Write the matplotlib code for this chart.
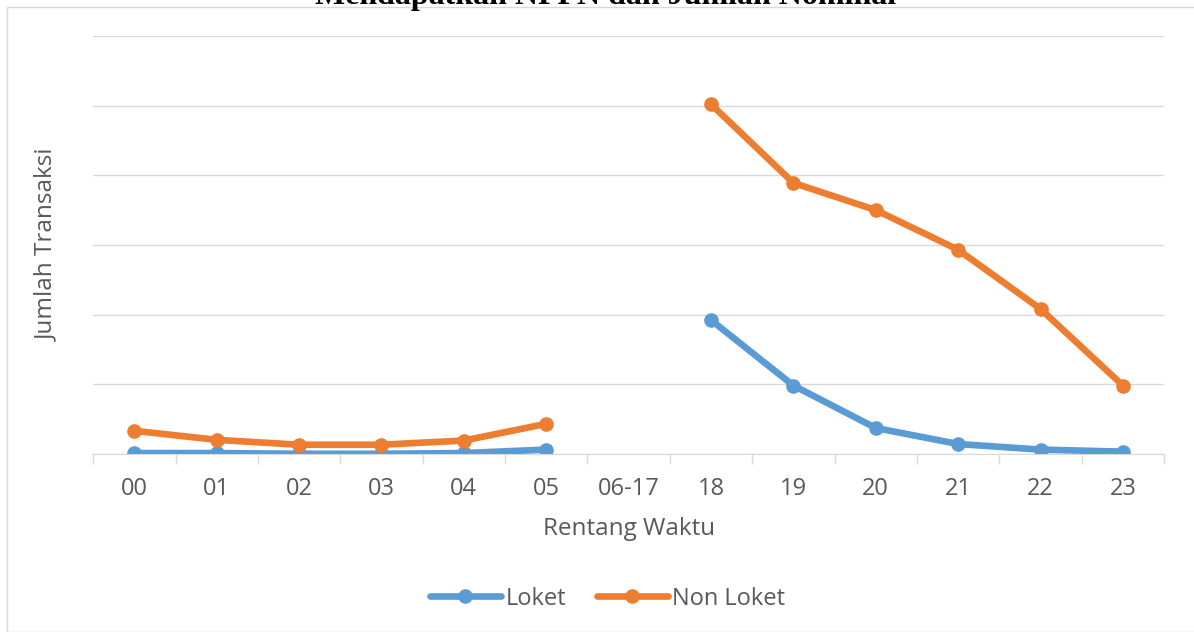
import matplotlib.pyplot as plt
import matplotlib.patches as mpatches
import numpy as np

# Data (y-axis has no labels, units are relative)
categories = ['00', '01', '02', '03', '04', '05', '06-17', '18', '19', '20', '21', '22', '23']
loket = [1, 1, 0, 0, 1, 6, np.nan, 192, 98, 37, 14, 6, 3]
non_loket = [33, 20, 13, 13, 19, 43, np.nan, 502, 389, 350, 293, 208, 98]

blue = '#5B9BD5'
orange = '#ED7D31'
grid_color = '#D9D9D9'
text_color = '#595959'

plt.rcParams['font.family'] = ['Open Sans', 'DejaVu Sans']

fig = plt.figure(figsize=(11.94, 6.32), dpi=100)
ax = fig.add_axes([0.078, 0.282, 0.897, 0.661])

x = np.arange(len(categories))
ax.plot(x, loket, color=blue, lw=4.8, marker='o', ms=9.5, label='Loket', solid_capstyle='round')
ax.plot(x, non_loket, color=orange, lw=4.8, marker='o', ms=9.5, label='Non Loket', solid_capstyle='round')

ax.set_xlim(-0.5, len(categories) - 0.5)
ax.set_ylim(0, 600)
ax.set_yticks(np.arange(0, 601, 100))
ax.yaxis.grid(True, color=grid_color, lw=1)
ax.set_axisbelow(True)
ax.tick_params(axis='y', left=False, labelleft=False)

# category labels in the middle, tick marks on the boundaries
ax.set_xticks(x)
ax.set_xticklabels(categories, fontsize=17, color=text_color)
ax.tick_params(axis='x', which='major', length=0, pad=17)
ax.set_xticks(np.arange(-0.5, len(categories)), minor=True)
ax.tick_params(axis='x', which='minor', length=7, color=grid_color, width=1)

for s in ['top', 'right', 'left']:
    ax.spines[s].set_visible(False)
ax.spines['bottom'].set_color(grid_color)

ax.set_xlabel('Rentang Waktu', fontsize=17.5, color=text_color, labelpad=11)
ax.set_ylabel('Jumlah Transaksi', fontsize=17.5, color=text_color, labelpad=24)

fig.legend(loc='center', bbox_to_anchor=(0.509, 0.053), ncols=2, frameon=False,
           fontsize=17, labelcolor=text_color, handlelength=3.0, columnspacing=1.3,
           handletextpad=0.2)

# chart border
fig.patches.append(mpatches.Rectangle((7 / 1194, 0), 1, 1 - 7 / 632, transform=fig.transFigure,
                                      fill=False, edgecolor='#D9D9D9', lw=1))

# title, cut off at the top as in the original
fig.text(0.507, 1 - 4 / 632, 'Mendapatkan NPPN dan Jumlah Nominal', ha='center', va='baseline',
         fontsize=23, fontweight='bold', family='Liberation Serif')

fig.savefig('out.png', dpi=100)
